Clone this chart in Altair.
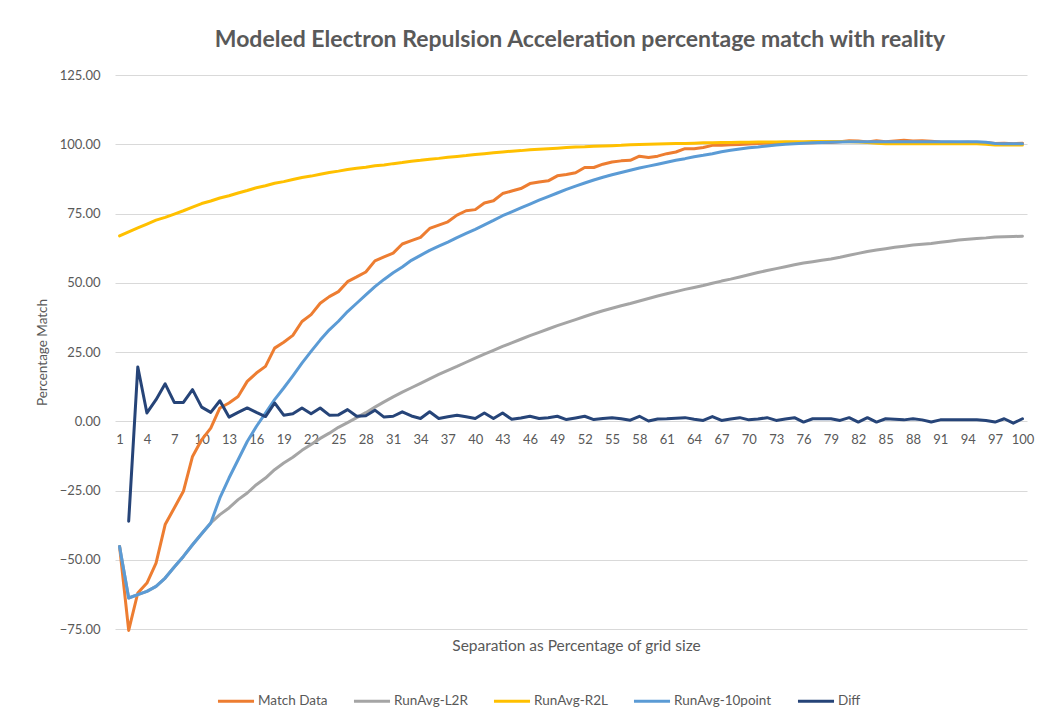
import altair as alt
import pandas as pd

series_names = ["Match Data", "RunAvg-L2R", "RunAvg-R2L", "RunAvg-10point", "Diff"]
series_colors = ["#ED7D31", "#A5A5A5", "#FFC000", "#5B9BD5", "#264478"]

separation = list(range(1, 101))
x_tick_labels = list(range(1, 101, 3))
y_ticks = [-75, -50, -25, 0, 25, 50, 75, 100, 125]

match_data = [
    -45.2, -75.5, -62.0, -58.4, -51.2, -37.3, -31.3, -25.3, -12.7, -6.7,
    -2.5, 4.8, 6.6, 8.9, 14.4, 17.4, 19.8, 26.4, 28.5, 31.0,
    36.0, 38.5, 42.6, 45.0, 46.8, 50.4, 52.1, 53.9, 57.9, 59.3,
    60.7, 64.0, 65.2, 66.4, 69.6, 70.8, 72.0, 74.4, 76.0, 76.4,
    78.8, 79.6, 82.2, 83.1, 84.0, 85.8, 86.4, 86.8, 88.6, 89.1,
    89.7, 91.6, 91.6, 92.8, 93.6, 94.0, 94.2, 95.7, 95.2, 95.7,
    96.6, 97.2, 98.4, 98.4, 98.8, 99.6, 99.6, 99.8, 99.9, 100.1,
    100.3, 100.4, 100.3, 100.5, 100.4, 100.6, 100.5, 100.7, 100.6, 100.9,
    101.3, 101.2, 100.8, 101.3, 100.9, 101.2, 101.4, 101.2, 101.3, 101.1,
    100.8, 100.7, 100.6, 100.7, 100.5, 100.6, 100.3, 100.4, 100.2, 100.4,
]

runavg_l2r = [
    -45.2, -63.8, -62.6, -61.4, -59.6, -56.6, -52.6, -48.8, -44.6, -40.6,
    -36.7, -33.7, -31.3, -28.3, -25.9, -22.9, -20.5, -17.5, -15.1, -13.0,
    -10.5, -8.4, -6.2, -4.3, -2.2, -0.5, 1.3, 3.1, 5.1, 7.0,
    8.8, 10.5, 12.1, 13.7, 15.3, 16.9, 18.4, 19.8, 21.3, 22.8,
    24.2, 25.6, 27.0, 28.3, 29.6, 30.9, 32.1, 33.3, 34.5, 35.6,
    36.7, 37.8, 38.9, 39.9, 40.8, 41.7, 42.5, 43.4, 44.3, 45.2,
    46.0, 46.8, 47.6, 48.3, 49.0, 49.8, 50.6, 51.3, 52.1, 52.9,
    53.7, 54.4, 55.1, 55.8, 56.5, 57.1, 57.6, 58.1, 58.6, 59.2,
    59.9, 60.6, 61.3, 61.8, 62.3, 62.8, 63.2, 63.6, 63.9, 64.2,
    64.6, 65.0, 65.4, 65.7, 66.0, 66.2, 66.5, 66.6, 66.7, 66.8,
]

runavg_r2l = [
    66.9, 68.4, 69.8, 71.2, 72.6, 73.6, 74.8, 76.0, 77.3, 78.6,
    79.5, 80.6, 81.4, 82.4, 83.3, 84.3, 85.0, 85.9, 86.5, 87.3,
    88.0, 88.5, 89.2, 89.8, 90.3, 90.9, 91.3, 91.7, 92.2, 92.5,
    93.0, 93.4, 93.9, 94.2, 94.6, 94.9, 95.3, 95.6, 95.9, 96.3,
    96.6, 96.9, 97.2, 97.5, 97.7, 98.0, 98.2, 98.4, 98.6, 98.8,
    99.0, 99.1, 99.3, 99.4, 99.5, 99.6, 99.8, 99.9, 100.0, 100.1,
    100.2, 100.3, 100.3, 100.4, 100.5, 100.5, 100.6, 100.6, 100.7, 100.7,
    100.8, 100.8, 100.8, 100.9, 100.9, 100.9, 101.0, 101.0, 101.0, 101.0,
    100.9, 100.8, 100.6, 100.4, 100.2, 100.2, 100.2, 100.2, 100.2, 100.2,
    100.2, 100.2, 100.2, 100.2, 100.2, 100.0, 99.7, 99.7, 99.7, 99.7,
]

runavg_10point = [
    -45.2, -63.8, -62.6, -61.4, -59.6, -56.6, -52.6, -48.8, -44.6, -40.6,
    -36.7, -27.7, -20.5, -13.9, -7.3, -1.9, 2.9, 7.8, 12.0, 16.4,
    21.0, 25.2, 29.3, 33.0, 36.1, 39.6, 42.6, 45.6, 48.6, 51.2,
    53.6, 55.7, 58.1, 59.9, 61.7, 63.2, 64.7, 66.3, 67.8, 69.3,
    70.9, 72.5, 74.2, 75.6, 77.0, 78.4, 79.8, 81.1, 82.4, 83.7,
    84.9, 86.0, 87.1, 88.1, 89.0, 89.8, 90.6, 91.4, 92.1, 92.8,
    93.5, 94.2, 94.8, 95.5, 96.0, 96.6, 97.3, 97.8, 98.3, 98.7,
    99.0, 99.4, 99.7, 100.0, 100.2, 100.4, 100.5, 100.6, 100.7, 100.8,
    100.9, 100.9, 100.9, 100.9, 100.9, 100.9, 100.9, 100.9, 100.9, 100.9,
    100.9, 100.9, 100.9, 100.9, 100.9, 100.7, 100.3, 100.2, 100.2, 100.2,
]

diff = [
    None, -36.1, 19.6, 3.0, 7.8, 13.5, 6.8, 6.8, 11.4, 5.1,
    3.2, 7.4, 1.5, 3.2, 4.8, 3.2, 1.7, 6.6, 2.2, 2.7,
    4.8, 2.7, 4.8, 2.2, 2.3, 4.2, 1.8, 2.0, 4.0, 1.5,
    1.8, 3.4, 1.9, 1.0, 3.4, 1.0, 1.6, 2.2, 1.6, 1.0,
    3.0, 1.0, 3.0, 0.7, 1.2, 1.8, 1.0, 1.3, 1.8, 0.6,
    1.2, 1.8, 0.6, 1.0, 1.3, 0.9, 0.4, 1.8, 0.1, 0.8,
    0.9, 1.1, 1.3, 0.7, 0.3, 1.7, 0.3, 0.8, 1.3, 0.5,
    0.8, 1.3, 0.3, 0.8, 1.3, -0.3, 0.9, 0.9, 0.9, 0.3,
    1.3, -0.3, 1.3, -0.3, 0.9, 0.7, 0.5, 0.9, 0.5, -0.3,
    0.5, 0.5, 0.5, 0.5, 0.5, 0.3, -0.3, 0.9, -0.7, 0.9,
]

all_values = [match_data, runavg_l2r, runavg_r2l, runavg_10point, diff]
rows = []
for order, (name, vals) in enumerate(zip(series_names, all_values)):
    for xv, yv in zip(separation, vals):
        rows.append({"sep": xv, "pct": yv, "series": name, "ord": order})
df = pd.DataFrame(rows)

FONT = "Lato"
TXT = "#595959"
AX = dict(
    labelFont=FONT, labelFontSize=13, labelColor=TXT,
    titleFont=FONT, titleColor=TXT, titleFontWeight="normal",
)

chart = (
    alt.Chart(df)
    .mark_line(strokeWidth=3, strokeJoin="round", strokeCap="round")
    .encode(
        x=alt.X(
            "sep:Q",
            scale=alt.Scale(domain=[0.5, 100.5], nice=False, zero=False),
            axis=alt.Axis(
                values=x_tick_labels,
                title="Separation as Percentage of grid size",
                titleFontSize=15.5,
                grid=False,
                domain=False,
                ticks=False,
                labelPadding=12,
                labelOverlap=False,
                labelFlush=False,
                labelBound=False,
                offset=-207.75,
                titleX=461,
                titleY=224,
                titleBaseline="middle",
                **AX,
            ),
        ),
        y=alt.Y(
            "pct:Q",
            scale=alt.Scale(domain=[-75, 125], nice=False, zero=False),
            axis=alt.Axis(
                values=y_ticks,
                format=".2f",
                title="Percentage Match",
                titleFontSize=13.5,
                grid=True,
                gridColor="#D9D9D9",
                gridWidth=1,
                domain=False,
                ticks=False,
                labelPadding=15,
                titleX=-73,
                titleY=277,
                titleBaseline="middle",
                **AX,
            ),
        ),
        color=alt.Color(
            "series:N",
            scale=alt.Scale(domain=series_names, range=series_colors),
            legend=alt.Legend(
                title=None,
                orient="none",
                direction="horizontal",
                legendX=101,
                legendY=606,
                symbolType="stroke",
                symbolStrokeWidth=3,
                symbolSize=1300,
                labelFontSize=13.5,
                labelFont=FONT,
                labelColor=TXT,
                labelOffset=2,
                columnPadding=19,
                padding=0,
            ),
        ),
        order=alt.Order("ord:Q"),
    )
    .properties(
        width=912,
        height=554,
        background="white",
        autosize=alt.AutoSizeParams(type="none"),
        padding={"left": 115, "top": 75, "right": 13, "bottom": 79},
        title=alt.TitleParams(
            text="Modeled Electron Repulsion Acceleration percentage match with reality",
            font=FONT,
            fontSize=23,
            fontWeight="bold",
            color=TXT,
            anchor="middle",
            dx=9,
            offset=17,
        ),
    )
    .configure_view(stroke=None)
)

chart.save("out.html", embed_options={"renderer": "svg", "actions": False})
